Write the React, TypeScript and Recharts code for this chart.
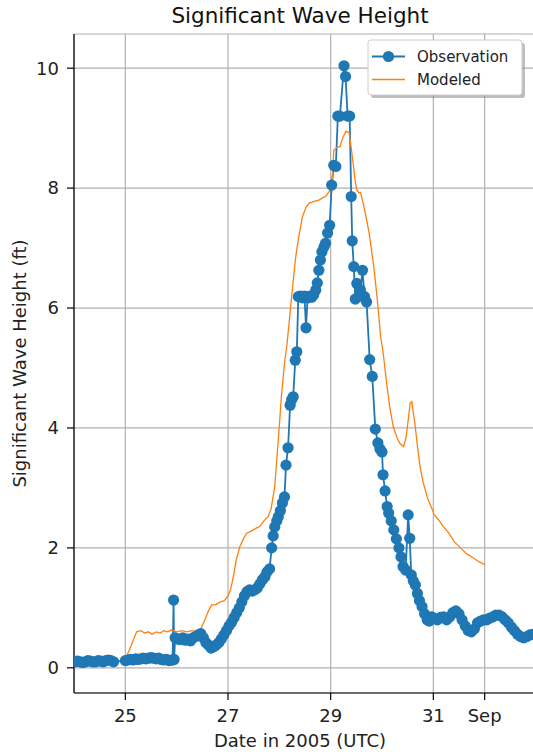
import React from "react";
import { LineChart, Line, XAxis, YAxis, CartesianGrid } from "recharts";

// days since 2005-08-24 00:00 UTC
const obsDay = [
  0.02, 0.07, 0.12, 0.17, 0.22, 0.27, 0.32, 0.37, 0.42, 0.47, 0.52, 0.57, 0.62, 0.67, 0.72, 0.77,
  1.0, 1.05, 1.1, 1.15, 1.2, 1.25, 1.3, 1.35, 1.4, 1.45, 1.5, 1.55, 1.6, 1.65, 1.7, 1.75, 1.8, 1.85, 1.9,
  1.92, 1.94, 1.95, 1.97,
  2.02, 2.07, 2.12, 2.17, 2.22, 2.27, 2.32, 2.37, 2.42, 2.47, 2.52, 2.57, 2.62, 2.67, 2.72,
  2.77, 2.82, 2.87, 2.92, 2.97, 3.02, 3.07, 3.12, 3.17, 3.22, 3.27, 3.32, 3.37, 3.42, 3.47, 3.52,
  3.57, 3.62, 3.67, 3.72, 3.76, 3.81, 3.85, 3.88, 3.91, 3.95, 3.98, 4.02, 4.06, 4.1, 4.13, 4.17,
  4.21, 4.24, 4.27, 4.31, 4.34, 4.37, 4.41, 4.45, 4.49, 4.52, 4.55, 4.59, 4.63, 4.67, 4.71, 4.74,
  4.77, 4.8, 4.83, 4.87, 4.9, 4.94, 4.98, 5.02, 5.06, 5.1, 5.14, 5.18, 5.26, 5.29, 5.33, 5.37,
  5.4, 5.42, 5.45, 5.48, 5.51, 5.54, 5.58, 5.62, 5.66, 5.7, 5.76, 5.81, 5.87, 5.92, 5.96, 6.0,
  6.02, 6.06, 6.1, 6.13, 6.18, 6.23, 6.28, 6.33, 6.37, 6.41, 6.46, 6.51, 6.54, 6.57, 6.61, 6.65,
  6.69, 6.73, 6.78, 6.83, 6.88, 6.92, 6.97, 7.02, 7.08, 7.14, 7.2, 7.26, 7.32, 7.38, 7.44, 7.5,
  7.56, 7.62, 7.68, 7.74, 7.8, 7.86, 7.92, 7.98, 8.04, 8.1, 8.16, 8.22, 8.28, 8.34, 8.4, 8.46,
  8.52, 8.58, 8.64, 8.7, 8.76, 8.82, 8.88, 8.94, 9.0,
];
const obsHs = [
  0.1, 0.11, 0.1, 0.09, 0.1, 0.12, 0.11, 0.1, 0.1, 0.12, 0.11, 0.1, 0.12, 0.13, 0.12, 0.1,
  0.12, 0.13, 0.14, 0.13, 0.15, 0.14, 0.15, 0.16, 0.15, 0.16, 0.17, 0.16, 0.15, 0.16, 0.14, 0.13, 0.14, 0.12, 0.13,
  0.13, 1.13, 0.14, 0.5,
  0.48, 0.47, 0.5, 0.46, 0.48, 0.45, 0.5, 0.52, 0.55, 0.57, 0.5, 0.42, 0.38, 0.33, 0.35,
  0.38, 0.42, 0.48, 0.55, 0.62, 0.7, 0.76, 0.84, 0.92, 1.0, 1.1, 1.2, 1.27, 1.3, 1.28, 1.3,
  1.33, 1.4, 1.47, 1.52, 1.6, 1.65, 2.0, 2.2, 2.35, 2.45, 2.52, 2.62, 2.75, 2.85, 3.38, 3.67,
  4.38, 4.47, 4.52, 5.13, 5.27, 6.19, 6.2, 6.17, 6.2, 5.67, 6.17, 6.2, 6.18, 6.22, 6.3, 6.42,
  6.63, 6.8, 6.94, 7.02, 7.08, 7.25, 7.38, 8.05, 8.38, 8.36, 9.2, 9.2, 10.04, 9.86, 9.2, 9.2,
  7.86, 7.12, 6.69, 6.15, 6.41, 6.19, 6.3, 6.63, 6.19, 6.1, 5.14, 4.86, 3.98, 3.75, 3.65, 3.6,
  3.22, 2.95, 2.69, 2.58, 2.45, 2.3, 2.15, 2.0, 1.85, 1.69, 1.63, 2.55, 2.16, 1.55, 1.45, 1.38,
  1.24, 1.12, 1.02, 0.9, 0.8, 0.78, 0.85, 0.82, 0.8, 0.84, 0.85, 0.8, 0.85, 0.92, 0.95, 0.9,
  0.8, 0.7, 0.62, 0.6, 0.65, 0.75, 0.78, 0.8, 0.8, 0.83, 0.85, 0.88, 0.88, 0.85, 0.8, 0.75,
  0.68, 0.62, 0.56, 0.52, 0.5, 0.52, 0.55, 0.56, 0.55,
];

const modDay = [
  1.0, 1.08, 1.15, 1.22, 1.3, 1.38, 1.45, 1.52, 1.6, 1.68, 1.75, 1.82, 1.9, 2.0, 2.1, 2.2, 2.3, 2.4,
  2.46, 2.55, 2.62, 2.68, 2.76, 2.85, 2.93, 3.0, 3.05, 3.1, 3.16, 3.23, 3.3, 3.36, 3.45, 3.55, 3.62,
  3.7, 3.78, 3.84, 3.91, 3.98, 4.04, 4.1, 4.15, 4.19, 4.22, 4.27, 4.32, 4.38, 4.45, 4.52, 4.58, 4.68,
  4.77, 4.85, 4.9, 4.97, 5.03, 5.06, 5.12, 5.18, 5.24, 5.3, 5.36, 5.41, 5.44, 5.48, 5.51, 5.55, 5.58,
  5.62, 5.67, 5.75, 5.84, 5.91, 5.97, 6.03, 6.09, 6.15, 6.22, 6.3, 6.35, 6.42, 6.47, 6.51, 6.55, 6.58,
  6.61, 6.64, 6.69, 6.74, 6.8, 6.88, 6.95, 7.02, 7.1, 7.2, 7.3, 7.41, 7.53, 7.65, 7.73, 7.85, 8.0,
];
const modHs = [
  0.15, 0.3, 0.45, 0.6, 0.62, 0.58, 0.6, 0.56, 0.6, 0.58, 0.62, 0.6, 0.63, 0.6, 0.62, 0.6, 0.62, 0.6,
  0.63, 0.8, 0.95, 1.05, 1.05, 1.1, 1.12, 1.2, 1.3, 1.5, 1.8, 2.02, 2.15, 2.24, 2.28, 2.33, 2.36,
  2.45, 2.52, 2.65, 3.02, 3.8, 4.52, 5.08, 5.4, 5.75, 6.02, 6.45, 6.86, 7.2, 7.52, 7.68, 7.75, 7.78,
  7.8, 7.84, 7.86, 7.94, 8.08, 8.63, 8.68, 8.69, 8.85, 8.95, 8.92, 8.6, 8.4, 8.1, 7.97, 7.92, 7.93,
  7.8, 7.6, 7.25, 6.69, 6.13, 5.55, 5.2, 4.75, 4.35, 4.02, 3.82, 3.74, 3.69, 3.85, 4.13, 4.42, 4.44,
  4.25, 4.08, 3.7, 3.36, 3.1, 2.85, 2.7, 2.55, 2.47, 2.35, 2.25, 2.1, 2.0, 1.9, 1.86, 1.79, 1.72,
];

const xTicks = [1, 3, 5, 7, 8];
const xTickLabels = ["25", "27", "29", "31", "Sep"];
const yTicks = [0, 2, 4, 6, 8, 10];

const obsData = obsDay.map((d, i) => ({ d, v: obsHs[i] }));
const modData = modDay.map((d, i) => ({ d, v: modHs[i] }));

const FONT = "DejaVu Sans, sans-serif";
const BLUE = "#1f77b4";
const ORANGE = "#ff7f0e";

const XTick = (props: any) => {
  const i = xTicks.indexOf(props.payload.value);
  return (
    <text x={props.x} y={props.y} dy="0.71em" textAnchor="middle" fontSize={18} fontFamily={FONT} fill="#222">
      {xTickLabels[i]}
    </text>
  );
};

const YTick = (props: any) => (
  <text x={props.x} y={props.y} dy="0.355em" textAnchor="end" fontSize={18} fontFamily={FONT} fill="#222">
    {props.payload.value}
  </text>
);

export default function App() {
  return (
    <div style={{ position: "fixed", left: 0, top: 0, width: 533, height: 754, overflow: "hidden", background: "#fff" }}>
      <LineChart width={560} height={754} margin={{ top: 34, right: 24, left: 0, bottom: 0 }}>
        <CartesianGrid stroke="#b0b0b0" strokeWidth={1.2} />
        <XAxis
          dataKey="d"
          type="number"
          domain={[0, 9]}
          ticks={xTicks}
          allowDataOverflow
          height={61}
          tickSize={7}
          tickMargin={9}
          tick={XTick}
          tickLine={{ stroke: "#000", strokeWidth: 1.2 }}
          axisLine={{ stroke: "#000", strokeWidth: 1.2 }}
        />
        <XAxis
          xAxisId="top"
          orientation="top"
          dataKey="d"
          type="number"
          domain={[0, 9]}
          height={0}
          tick={false}
          tickLine={false}
          axisLine={{ stroke: "#000", strokeWidth: 1.2 }}
        />
        <YAxis
          type="number"
          domain={[-0.42, 10.57]}
          ticks={yTicks}
          allowDataOverflow
          width={74}
          tickSize={7}
          tickMargin={8}
          tick={YTick}
          tickLine={{ stroke: "#000", strokeWidth: 1.2 }}
          axisLine={{ stroke: "#000", strokeWidth: 1.2 }}
        />
        <Line
          data={obsData}
          dataKey="v"
          stroke={BLUE}
          strokeWidth={1.8}
          dot={{ r: 5.6, fill: BLUE, stroke: BLUE, strokeWidth: 0 }}
          isAnimationActive={false}
        />
        <Line
          data={modData}
          dataKey="v"
          stroke={ORANGE}
          strokeWidth={1.3}
          dot={false}
          isAnimationActive={false}
        />
      </LineChart>
      <svg width={533} height={754} style={{ position: "absolute", left: 0, top: 0, pointerEvents: "none" }}>
        <text x={300} y={23} textAnchor="middle" fontSize={21.5} fontFamily={FONT} fill="#111">
          Significant Wave Height
        </text>
        <text x={300} y={747} textAnchor="middle" fontSize={18} fontFamily={FONT} fill="#222">
          Date in 2005 (UTC)
        </text>
        <text
          x={0}
          y={0}
          transform="translate(26,363.5) rotate(-90)"
          textAnchor="middle"
          fontSize={18}
          fontFamily={FONT}
          fill="#222"
        >
          Significant Wave Height (ft)
        </text>
        <rect x={371} y={43} width={154} height={55} rx={3} fill="#888" opacity={0.55} />
        <rect x={368} y={40} width={154} height={55} rx={3} fill="#fff" stroke="#ccc" strokeWidth={1} />
        <line x1={372} y1={56.5} x2={405} y2={56.5} stroke={BLUE} strokeWidth={1.8} />
        <circle cx={388.5} cy={56.5} r={5.6} fill={BLUE} />
        <text x={417} y={62} fontSize={15} fontFamily={FONT} fill="#222">
          Observation
        </text>
        <line x1={372} y1={79.5} x2={405} y2={79.5} stroke={ORANGE} strokeWidth={1.3} />
        <text x={417} y={85} fontSize={15} fontFamily={FONT} fill="#222">
          Modeled
        </text>
      </svg>
    </div>
  );
}
